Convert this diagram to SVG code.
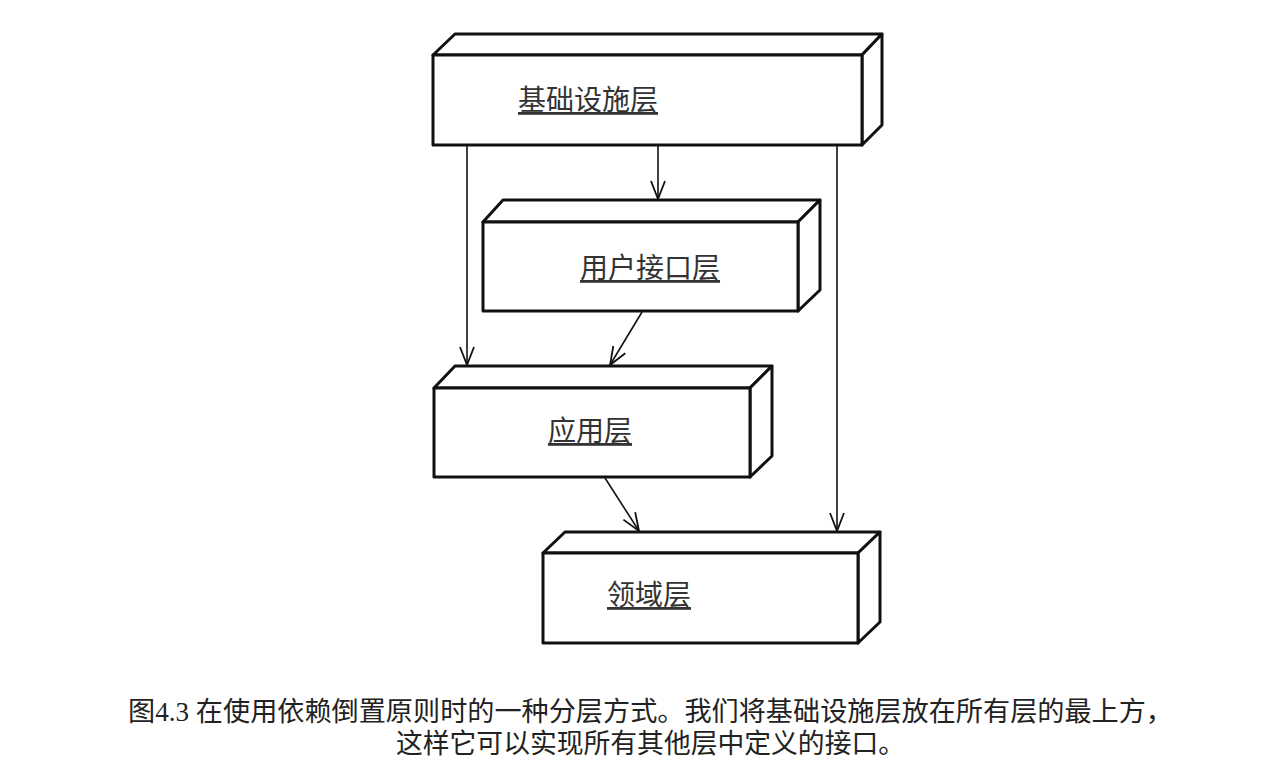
<svg xmlns="http://www.w3.org/2000/svg" width="1272" height="784" viewBox="0 0 1272 784">
  <style>
    .face { fill: #fff; stroke: #111; stroke-width: 3; stroke-linejoin: round; }
    .label { font-family: "Noto Sans CJK SC", sans-serif; font-size: 28px; fill: #333; text-decoration: underline; }
    .dep { fill: none; stroke: #111; stroke-width: 1.6; marker-end: url(#open-arrow); }
    .caption { font-family: "Liberation Serif", "Noto Sans CJK SC", serif; font-size: 27px; fill: #222; }
  </style>
  <defs>
    <marker id="open-arrow" viewBox="-20 -9 22 18" refX="0" refY="0" markerWidth="22" markerHeight="18" markerUnits="userSpaceOnUse" orient="auto">
      <path d="M-18,-7 L0,0 L-18,7" fill="none" stroke="#111" stroke-width="1.8"/>
    </marker>
  </defs>

  <rect width="1272" height="784" fill="#fff"/>

  <!-- layer boxes drawn as 3D blocks -->
  <g id="infrastructure">
    <polygon class="face" points="433,55 455,34 882,34 862,55"/>
    <polygon class="face" points="862,55 882,34 882,125 862,145"/>
    <rect class="face" x="433" y="55" width="429" height="90"/>
    <text class="label" x="518" y="110">基础设施层</text>
  </g>

  <g id="user-interface">
    <polygon class="face" points="483,222 503,200 820,200 798,222"/>
    <polygon class="face" points="798,222 820,200 820,290 798,311"/>
    <rect class="face" x="483" y="222" width="315" height="89"/>
    <text class="label" x="580" y="278">用户接口层</text>
  </g>

  <g id="application">
    <polygon class="face" points="434,388 455,366 772,366 750,388"/>
    <polygon class="face" points="750,388 772,366 772,456 750,477"/>
    <rect class="face" x="434" y="388" width="316" height="89"/>
    <text class="label" x="548" y="441">应用层</text>
  </g>

  <g id="domain">
    <polygon class="face" points="543,553 565,532 880,532 858,553"/>
    <polygon class="face" points="858,553 880,532 880,622 858,643"/>
    <rect class="face" x="543" y="553" width="315" height="90"/>
    <text class="label" x="607" y="605">领域层</text>
  </g>

  <!-- dependency connectors -->
  <g id="connectors">
    <line class="dep" x1="467" y1="146" x2="467" y2="365"/>
    <line class="dep" x1="658" y1="146" x2="658" y2="199"/>
    <line class="dep" x1="837" y1="146" x2="837" y2="531"/>
    <line class="dep" x1="642" y1="312" x2="610" y2="365"/>
    <line class="dep" x1="605" y1="478" x2="639" y2="531"/>
  </g>

  <!-- figure caption -->
  <g id="caption">
    <text class="caption" x="128" y="721" textLength="1045" lengthAdjust="spacingAndGlyphs">图4.3 在使用依赖倒置原则时的一种分层方式。我们将基础设施层放在所有层的最上方，</text>
    <text class="caption" x="396" y="753" textLength="509" lengthAdjust="spacingAndGlyphs">这样它可以实现所有其他层中定义的接口。</text>
  </g>
</svg>
